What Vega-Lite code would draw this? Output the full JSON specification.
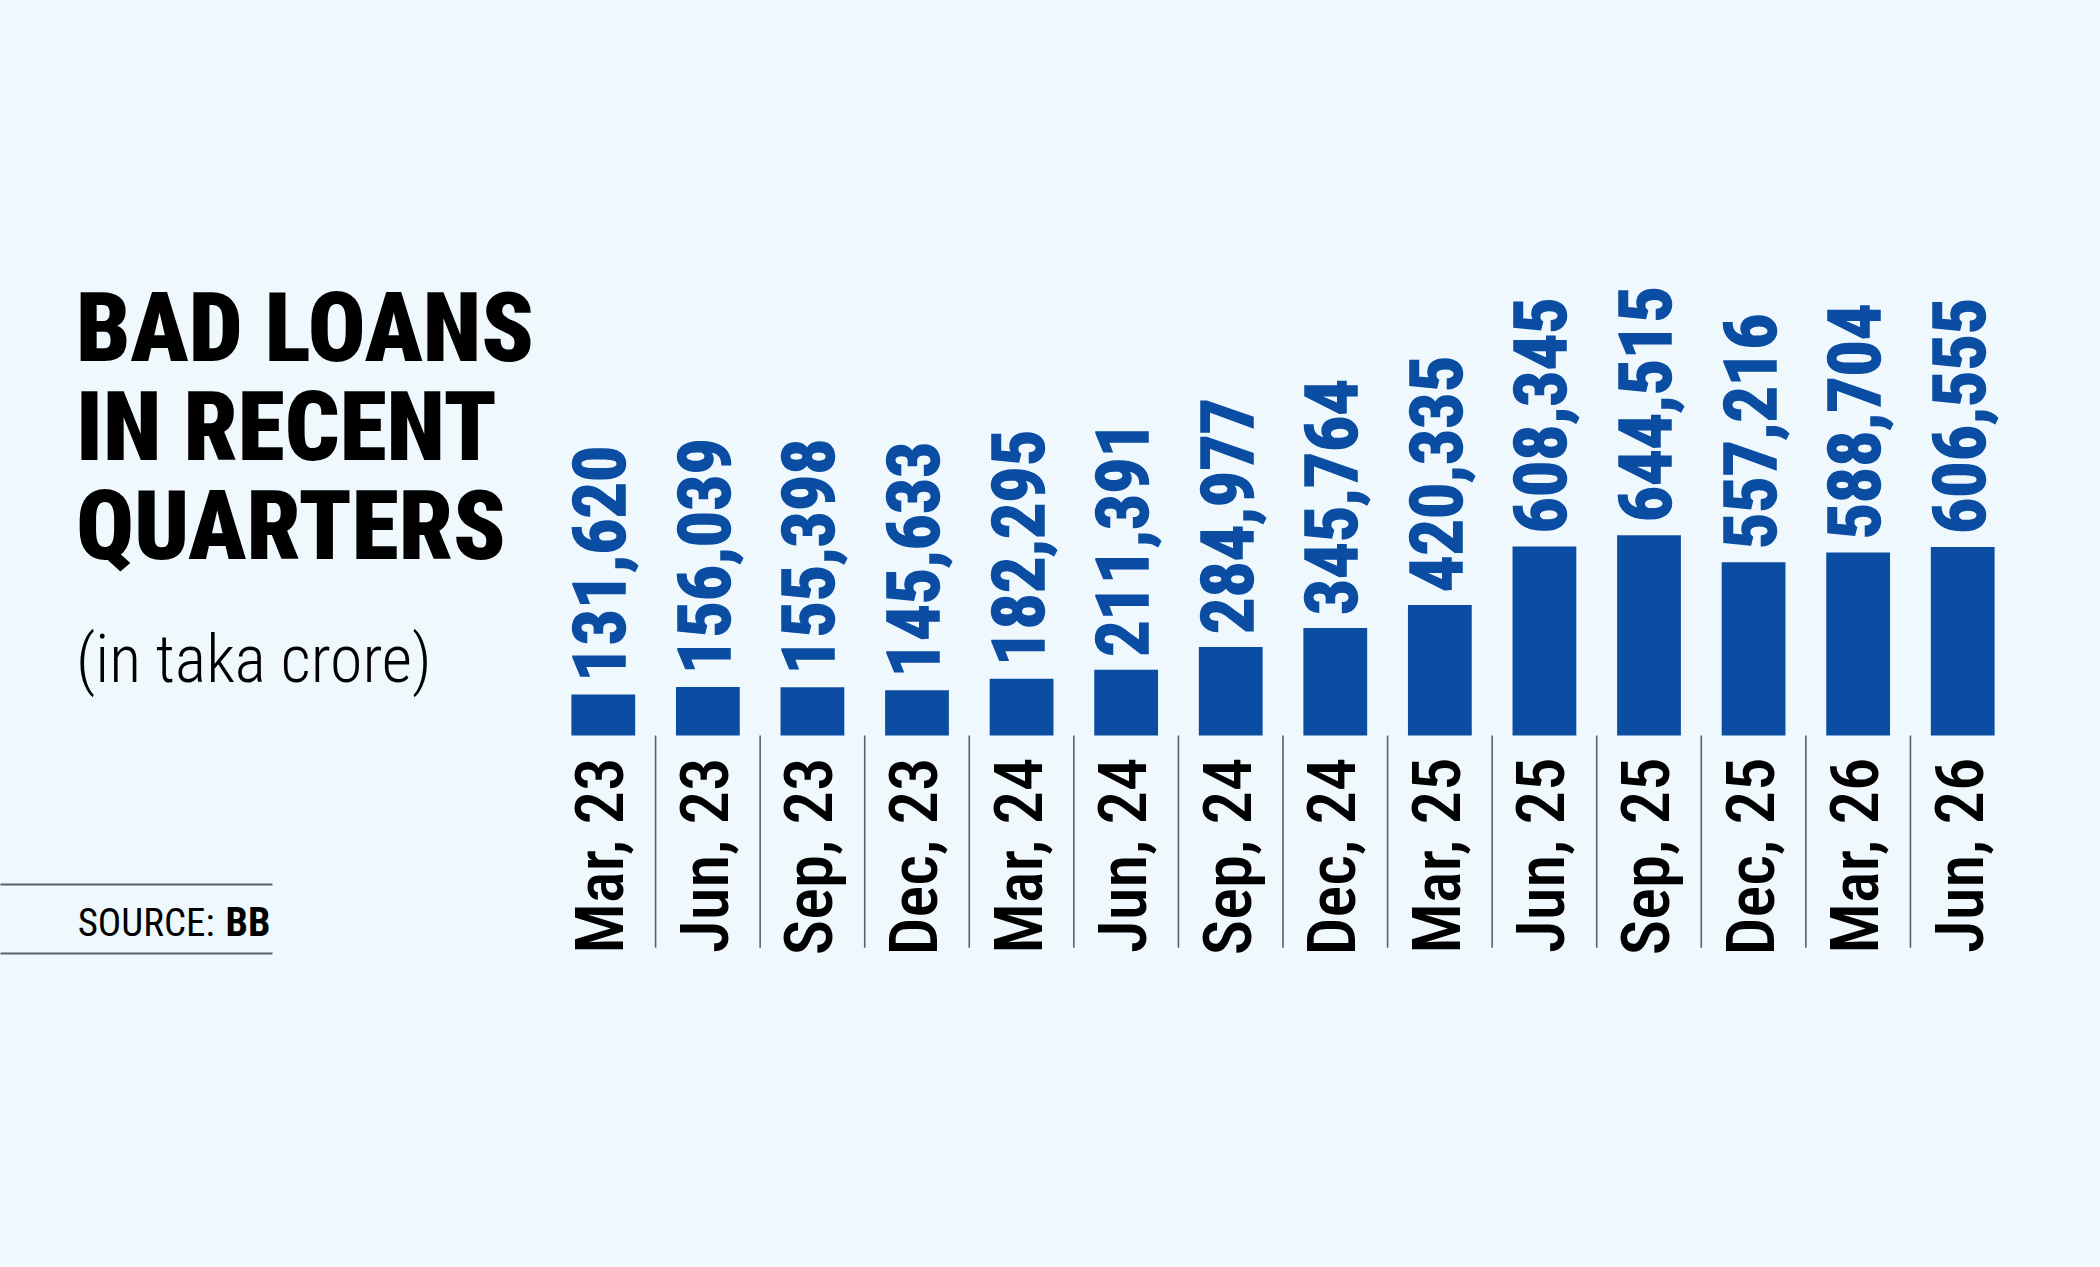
{
  "$schema": "https://vega.github.io/schema/vega-lite/v6.json",
  "background": "#EEF8FD",
  "autosize": {"type": "none"},
  "padding": {"left": 0, "top": 518, "right": 85, "bottom": 314},
  "width": 2015,
  "height": 435,
  "config": {"view": {"stroke": null}, "font": "Roboto Condensed, Roboto"},
  "title": {
    "text": ["BAD LOANS", "IN RECENT", "QUARTERS"],
    "subtitle": "(in taka crore)",
    "anchor": "start",
    "orient": "top",
    "frame": "group",
    "dx": 76,
    "dy": 410,
    "offset": 0,
    "font": "Roboto Condensed, Roboto",
    "fontSize": 96,
    "fontWeight": 900,
    "lineHeight": 99,
    "color": "#000000",
    "subtitleFont": "Roboto Condensed, Roboto",
    "subtitleFontSize": 66,
    "subtitleFontWeight": 300,
    "subtitleColor": "#000000",
    "subtitlePadding": 51
  },
  "data": {
    "values": [
      {"q": "Mar, 23", "v": 131620},
      {"q": "Jun, 23", "v": 156039},
      {"q": "Sep, 23", "v": 155398},
      {"q": "Dec, 23", "v": 145633},
      {"q": "Mar, 24", "v": 182295},
      {"q": "Jun, 24", "v": 211391},
      {"q": "Sep, 24", "v": 284977},
      {"q": "Dec, 24", "v": 345764},
      {"q": "Mar, 25", "v": 420335},
      {"q": "Jun, 25", "v": 608345},
      {"q": "Sep, 25", "v": 644515},
      {"q": "Dec, 25", "v": 557216},
      {"q": "Mar, 26", "v": 588704},
      {"q": "Jun, 26", "v": 606555}
    ]
  },
  "layer": [
    {
      "encoding": {
        "x": {
          "field": "q", "type": "nominal", "sort": null,
          "scale": {
            "domain": ["Mar, 23", "Jun, 23", "Sep, 23", "Dec, 23", "Mar, 24", "Jun, 24", "Sep, 24", "Dec, 24", "Mar, 25", "Jun, 25", "Sep, 25", "Dec, 25", "Mar, 26", "Jun, 26"],
            "range": [551, 2015],
            "paddingInner": 0, "paddingOuter": 0
          },
          "axis": null
        }
      },
      "layer": [
        {
          "mark": {"type": "bar", "color": "#0A4DA2", "width": {"band": 0.61}},
          "encoding": {
            "y": {"field": "v", "type": "quantitative", "scale": {"domain": [-683000, 700000]}, "axis": null}
          }
        },
        {
          "mark": {"type": "text", "angle": 270, "align": "left", "baseline": "middle", "dx": 13,
                   "font": "Roboto Condensed, Roboto", "fontSize": 72, "fontWeight": "bold",
                   "color": "#0A4DA2", "stroke": "#0A4DA2", "strokeWidth": 1.5},
          "encoding": {
            "y": {"field": "v", "type": "quantitative"},
            "text": {"field": "v", "type": "quantitative", "format": ",d"}
          }
        },
        {
          "transform": [{"filter": "datum.q !== 'Mar, 23'"}],
          "mark": {"type": "rule", "color": "#5a6068", "strokeWidth": 1.6},
          "encoding": {
            "x": {"field": "q", "type": "nominal", "sort": null, "bandPosition": 0},
            "y": {"datum": 0},
            "y2": {"datum": -683000}
          }
        },
        {
          "mark": {"type": "text", "angle": 270, "align": "right", "baseline": "middle", "dx": -22,
                   "font": "Roboto Condensed, Roboto", "fontSize": 67, "fontWeight": 500, "color": "#000000"},
          "encoding": {
            "y": {"datum": 0},
            "text": {"field": "q", "type": "nominal"}
          }
        }
      ]
    },
    {
      "mark": {"type": "point", "opacity": 0},
      "encoding": {
        "x": {
          "field": "v", "type": "quantitative",
          "scale": {"range": [0, 272]},
          "axis": {
            "orient": "bottom", "domain": true, "domainColor": "#5a6068", "domainWidth": 2,
            "ticks": false, "labels": false, "grid": false,
            "title": "SOURCE:", "titleFont": "Roboto Condensed, Roboto", "titleFontSize": 39,
            "titleFontWeight": "normal", "titleColor": "#000000",
            "titleX": 214, "titleY": -18, "titleAlign": "right", "titleBaseline": "alphabetic"
          }
        }
      }
    },
    {
      "mark": {"type": "point", "opacity": 0},
      "encoding": {
        "x": {
          "field": "v", "type": "quantitative",
          "scale": {"range": [0, 272]},
          "axis": {
            "orient": "top", "offset": -366, "domain": true, "domainColor": "#5a6068", "domainWidth": 2,
            "ticks": false, "labels": false, "grid": false,
            "title": "BB", "titleFont": "Roboto Condensed, Roboto", "titleFontSize": 40,
            "titleFontWeight": "bold", "titleColor": "#000000",
            "titleX": 270, "titleY": 51, "titleAlign": "right", "titleBaseline": "alphabetic"
          }
        }
      }
    }
  ],
  "resolve": {"scale": {"x": "independent"}, "axis": {"x": "independent"}}
}
